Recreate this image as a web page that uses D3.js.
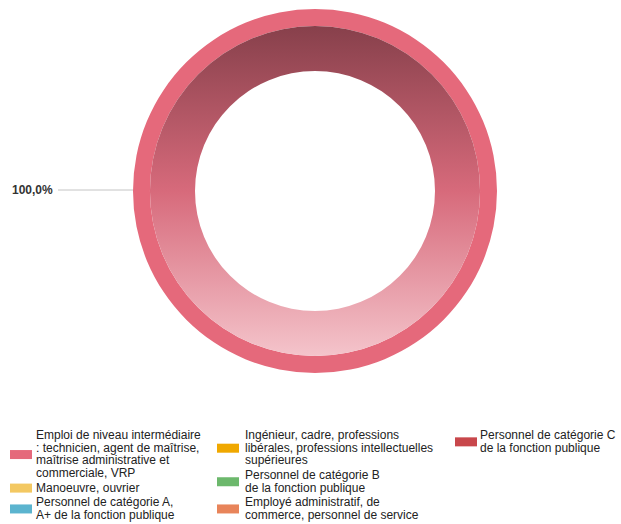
<!DOCTYPE html>
<html><head><meta charset="utf-8">
<script src="https://cdn.jsdelivr.net/npm/d3@7"></script>
<style>
html,body{margin:0;padding:0;background:#fff;}
svg{display:block;font-family:"Liberation Sans",Arial,sans-serif;}
</style></head>
<body><svg id="c" width="621" height="524"></svg>
<script>
const categories = [
  "Emploi de niveau intermédiaire\n: technicien, agent de maîtrise,\nmaîtrise administrative et\ncommerciale, VRP",
  "Manoeuvre, ouvrier",
  "Personnel de catégorie A,\nA+ de la fonction publique",
  "Ingénieur, cadre, professions\nlibérales, professions intellectuelles\nsupérieures",
  "Personnel de catégorie B\nde la fonction publique",
  "Employé administratif, de\ncommerce, personnel de service",
  "Personnel de catégorie C\nde la fonction publique"
];
const values = [100, 0, 0, 0, 0, 0, 0];
const colors = ["#e5697b", "#f3c862", "#5bb4cf", "#f0a800", "#6cb86c", "#e8845a", "#c8474b"];
const legendColumns = [[0, 1, 2], [3, 4, 5], [6]];

const svg = d3.select("#c");
const cx = 315, cy = 191, R = 182, Rmid = 165, Rin = 120;

const defs = svg.append("defs");
const grad = defs.append("linearGradient").attr("id", "g0")
  .attr("gradientUnits", "userSpaceOnUse")
  .attr("x1", 0).attr("y1", -Rmid).attr("x2", 0).attr("y2", Rmid);
grad.append("stop").attr("offset", 0).attr("stop-color", "#87404b");
grad.append("stop").attr("offset", 0.5).attr("stop-color", "#d76a7b");
grad.append("stop").attr("offset", 1).attr("stop-color", "#f4c4cb");

const pie = d3.pie().sort(null).value(d => d)(values);
const outerArc = d3.arc().innerRadius(Rmid).outerRadius(R);
const innerArc = d3.arc().innerRadius(Rin).outerRadius(Rmid);

const g = svg.append("g").attr("transform", `translate(${cx},${cy})`);
g.selectAll("path.o").data(pie.filter(d => d.value > 0)).enter().append("path")
  .attr("class", "o").attr("d", outerArc).attr("fill", d => colors[d.index]);
g.selectAll("path.i").data(pie.filter(d => d.value > 0)).enter().append("path")
  .attr("class", "i").attr("d", innerArc).attr("fill", "url(#g0)");

// label
const total = d3.sum(values);
const fmt = v => d3.format(".1f")(v).replace(".", ",") + "%";
pie.filter(d => d.value > 0).forEach(d => {
  const y0 = cy - 1;
  svg.append("line").attr("x1", 58).attr("x2", cx - R).attr("y1", y0).attr("y2", y0)
    .attr("stroke", "#c4c4c4").attr("stroke-width", 1);
  svg.append("text").attr("x", 12).attr("y", y0 + 4).attr("font-size", 12).attr("font-weight", "bold")
    .attr("fill", "#333").text(fmt(d.value / total * 100));
});

// legend
const colX = [10, 217, 455];
const textX = [36, 245, 480];
const lh = 12.7;
legendColumns.forEach((col, ci) => {
  let y = 435;
  col.forEach(idx => {
    const lines = categories[idx].split("\n");
    const top = y;
    const t = svg.append("text").attr("font-size", 12).attr("fill", "#222");
    lines.forEach((l, li) => {
      t.append("tspan").attr("x", textX[ci]).attr("y", y + li * lh + 4).text(l);
    });
    const last = y + (lines.length - 1) * lh;
    const mid = (top + last) / 2;
    svg.append("rect").attr("x", colX[ci]).attr("y", mid - 4).attr("width", 22).attr("height", 9)
      .attr("fill", colors[idx]);
    y = last + 14.5;
  });
});
</script></body></html>
